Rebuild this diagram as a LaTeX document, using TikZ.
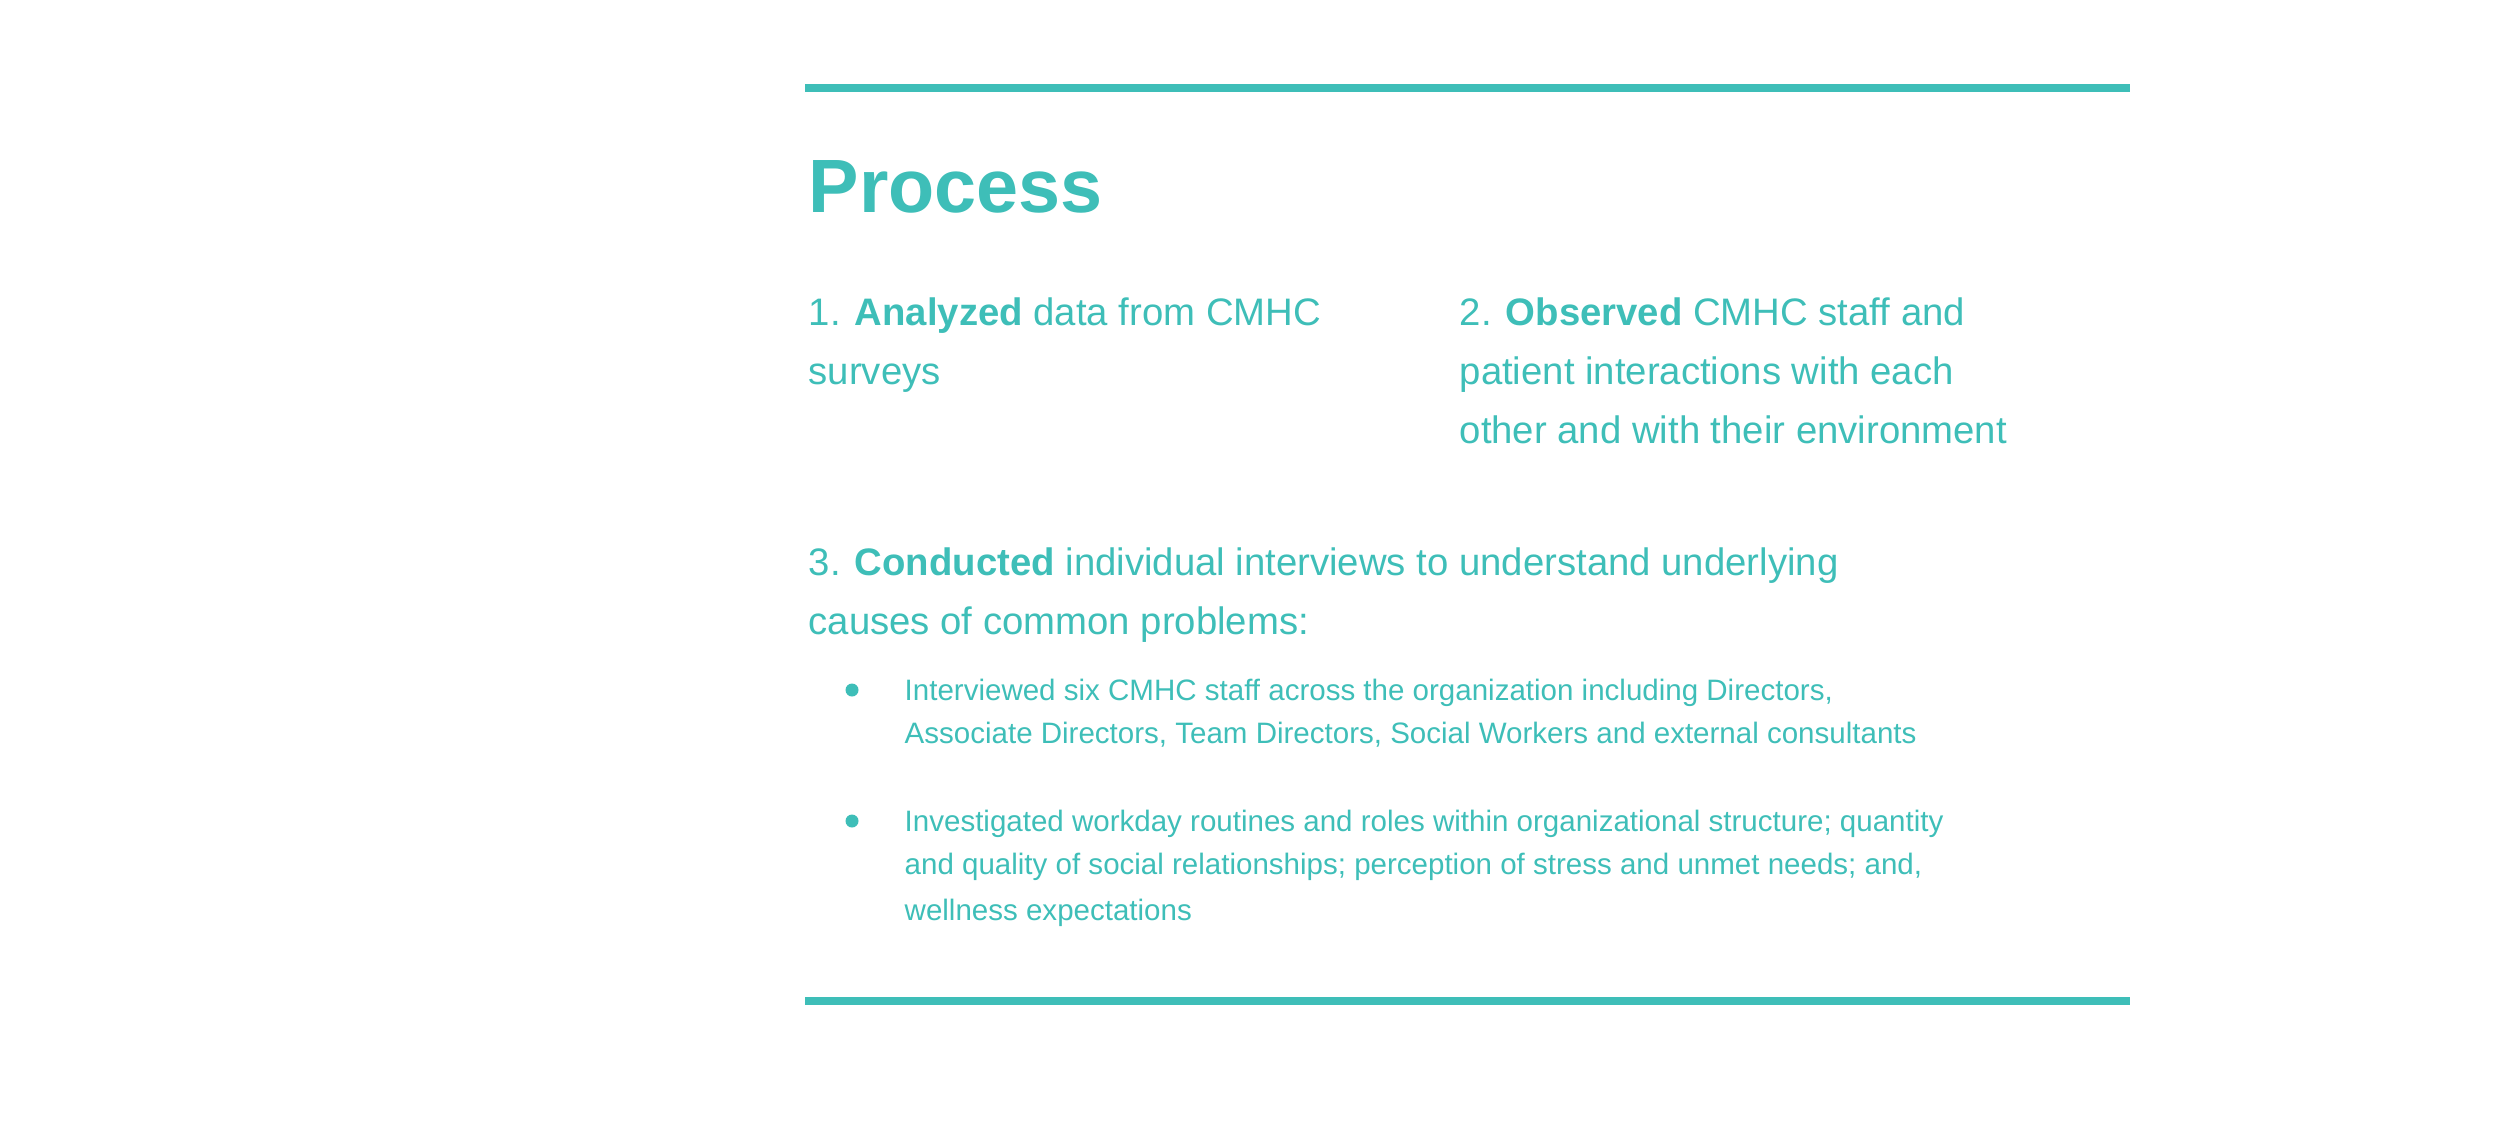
\documentclass[tikz,border=0pt]{standalone}
\usepackage{fontspec}
\setmainfont{Liberation Sans}
\usepackage{tikz}
\usetikzlibrary{positioning}
\definecolor{teal1}{RGB}{62,190,184}
\tikzset{
  body/.style={anchor=base west,inner sep=0pt,text=teal1,
    font=\fontsize{10.9}{16.8}\selectfont},
  small/.style={anchor=base west,inner sep=0pt,text=teal1,
    font=\fontsize{8.4}{12.2}\selectfont},
  dot/.style={circle,fill=teal1,inner sep=0pt,minimum size=1.3mm},
  rule/.style={draw=teal1,line width=2.3pt}
}
\begin{document}
\begin{tikzpicture}[x=1cm,y=-1cm]
  \useasboundingbox (0,0) rectangle (25,11.2);
  % rules
  \coordinate (t1) at (8.05,0.88);
  \coordinate (t2) at (21.3,0.88);
  \coordinate (b1) at (8.05,10.01);
  \coordinate (b2) at (21.3,10.01);
  \draw[rule] (t1) -- (t2);
  \draw[rule] (b1) -- (b2);

  % title
  \node[anchor=base west,inner sep=0pt,text=teal1,
    font=\fontsize{21.5}{25}\selectfont\bfseries] (title) at (8.08,2.12) {Process};

  % step 1
  \node[body] (s1a) at (8.08,3.25) {1. \textbf{Analyzed} data from CMHC};
  \node[body] (s1b) at (8.08,3.84) {surveys};
  % step 2
  \node[body] (s2a) at (14.59,3.25) {2. \textbf{Observed} CMHC staff and};
  \node[body] (s2b) at (14.59,3.84) {patient interactions with each};
  \node[body] (s2c) at (14.59,4.43) {other and with their environment};
  % step 3
  \node[body] (s3a) at (8.08,5.75) {3. \textbf{Conducted} individual interviews to understand underlying};
  \node[body] (s3b) at (8.08,6.34) {causes of common problems:};

  % bullets
  \node[dot] (d1) at (8.52,6.90) {};
  \node[small] (p1a) at (9.04,7.00) {Interviewed six CMHC staff across the organization including Directors,};
  \node[small] (p1b) at (9.04,7.43) {Associate Directors, Team Directors, Social Workers and external consultants};
  \node[dot] (d2) at (8.52,8.21) {};
  \node[small] (p2a) at (9.04,8.31) {Investigated workday routines and roles within organizational structure; quantity};
  \node[small] (p2b) at (9.04,8.74) {and quality of social relationships; perception of stress and unmet needs; and,};
  \node[small] (p2c) at (9.04,9.20) {wellness expectations};
\end{tikzpicture}
\end{document}
